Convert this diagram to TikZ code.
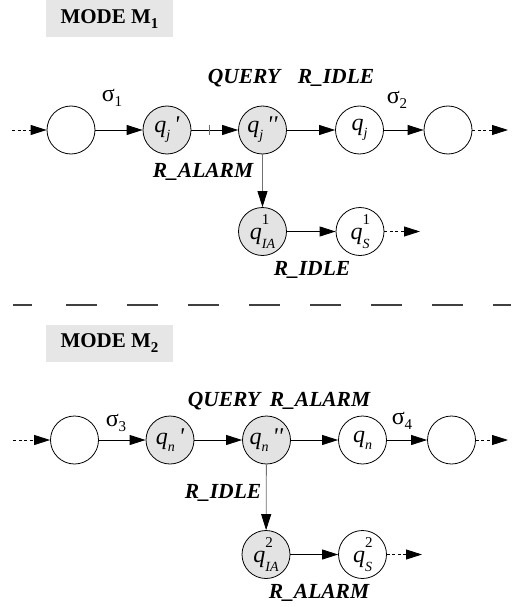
\documentclass[tikz,border=0pt]{standalone}
\usepackage{fontspec}
\setmainfont{Liberation Serif}
\usetikzlibrary{arrows.meta}
\definecolor{stategray}{HTML}{E3E3E3}
\definecolor{modegray}{HTML}{E6E6E6}
\definecolor{branchgray}{HTML}{707070}
\definecolor{sepgray}{HTML}{404040}
% state name with a superscript set above a subscript
\newcommand\supsub[2]{\rlap{\raisebox{0.6em}{\fontsize{15}{15}\selectfont #1}}%
  \raisebox{-0.38em}{\fontsize{14}{14}\selectfont #2}}
% state name with a lowered subscript and optional primes
\newcommand\qsub[2]{\textit{q}\raisebox{-0.3em}{\fontsize{14}{14}\selectfont\textit{#1}}#2}
\begin{document}
\begin{tikzpicture}[x=1pt,y=-1pt,
  state/.style={circle,draw,line width=0.8pt,minimum size=48pt,inner sep=0pt,
    font=\fontsize{24}{26}\selectfont},
  shaded/.style={state,fill=stategray},
  edge/.style={line width=0.8pt,-{Triangle[length=16pt,width=10pt]}},
  lead/.style={edge,dash pattern=on 3pt off 2.5pt},
  branch/.style={line width=0.8pt,draw=branchgray,-{Triangle[length=16pt,width=10pt,color=black]}},
  tickmark/.style={line width=0.8pt,draw=branchgray},
  lab/.style={font=\fontsize{21.5}{23}\selectfont\bfseries\itshape,inner sep=0pt},
  sig/.style={font=\fontsize{24}{26}\selectfont,inner sep=0pt},
  mode/.style={fill=modegray,minimum width=127pt,minimum height=37pt,
    font=\fontsize{21}{23}\selectfont\bfseries,inner sep=0pt}
]
\useasboundingbox (0,0) rectangle (511,607);

% ---------------- mode 1 ----------------
\node[mode] (m1) at (109.5,19) {MODE M\raisebox{-0.25em}{\fontsize{15}{15}\selectfont 1}};

\coordinate (s1) at (12,130);
\node[state]  (a1) at (71,130) {};
\node[shaded] (b1) at (167,130) {\qsub{j}{\,\textit{\textquotesingle}}};
\node[shaded] (c1) at (262.5,130) {\qsub{j}{\,\textit{\textquotesingle\textquotesingle}}};
\node[state]  (d1) at (359.5,130) {\qsub{j}{}};
\node[state]  (e1) at (448,130) {};
\coordinate (x1) at (508,130);
\node[shaded] (f1) at (262.5,231.5) {\textit{q}\supsub{1}{\textit{IA}}};
\node[state]  (g1) at (360,231.5) {\textit{q}\supsub{1}{\textit{S}}};
\coordinate (y1) at (420,231.5);

\draw[lead] (s1) -- (a1);
\draw[edge] (a1) -- (b1);
\draw[edge] (b1) -- (c1) coordinate[pos=0.38] (t1);
\draw[tickmark] ([yshift=5pt]t1) -- ([yshift=-5pt]t1);
\draw[edge] (c1) -- (d1);
\draw[edge] (d1) -- (e1);
\draw[lead] (e1) -- (x1);
\draw[branch] (c1) -- (f1);
\draw[edge] (f1) -- (g1);
\draw[lead] (g1) -- (y1);

\node[sig] (sg1) at (112,98) {σ\raisebox{-0.2em}{\fontsize{15}{15}\selectfont 1}};
\node[sig] (sg2) at (397,100) {σ\raisebox{-0.2em}{\fontsize{15}{15}\selectfont 2}};
\node[lab] (l1) at (244,78) {QUERY};
\node[lab] (l2) at (336,78) {R\_IDLE};
\node[lab] (l3) at (203,172) {R\_ALARM};
\node[lab] (l4) at (312,270) {R\_IDLE};

% ---------------- separator ----------------
\draw[sepgray,line width=1.2pt,
  dash pattern=on 19pt off 34pt on 31pt off 30pt on 31pt off 30pt on 31pt off 30pt
  on 31pt off 30pt on 31pt off 30pt on 31pt off 30pt on 31pt off 30pt on 31pt off 30pt]
  (13,305) coordinate (sepL) -- (511,305) coordinate (sepR);

% ---------------- mode 2 ----------------
\node[mode] (m2) at (109.5,343) {MODE M\raisebox{-0.25em}{\fontsize{15}{15}\selectfont 2}};

\coordinate (s2) at (13,440);
\node[state]  (a2) at (74.5,440) {};
\node[shaded] (b2) at (170,440) {\qsub{n}{\,\textit{\textquotesingle}}};
\node[shaded] (c2) at (266.5,440) {\qsub{n}{\,\textit{\textquotesingle\textquotesingle}}};
\node[state]  (d2) at (362.5,440) {\qsub{n}{}};
\node[state]  (e2) at (451.5,440) {};
\coordinate (x2) at (508,440);
\node[shaded] (f2) at (266,554.5) {\textit{q}\supsub{2}{\textit{IA}}};
\node[state]  (g2) at (362.5,554.5) {\textit{q}\supsub{2}{\textit{S}}};
\coordinate (y2) at (422,554.5);

\draw[lead] (s2) -- (a2);
\draw[edge] (a2) -- (b2);
\draw[edge] (b2) -- (c2);
\draw[edge] (c2) -- (d2);
\draw[edge] (d2) -- (e2);
\draw[lead] (e2) -- (x2);
\draw[branch] (c2) -- (f2);
\draw[edge] (f2) -- (g2);
\draw[lead] (g2) -- (y2);

\node[sig] (sg3) at (116,423) {σ\raisebox{-0.2em}{\fontsize{15}{15}\selectfont 3}};
\node[sig] (sg4) at (402,421) {σ\raisebox{-0.2em}{\fontsize{15}{15}\selectfont 4}};
\node[lab] (l5) at (224,401) {QUERY};
\node[lab] (l6) at (320,401) {R\_ALARM};
\node[lab] (l7) at (223,493) {R\_IDLE};
\node[lab] (l8) at (319,593) {R\_ALARM};
\end{tikzpicture}
\end{document}
